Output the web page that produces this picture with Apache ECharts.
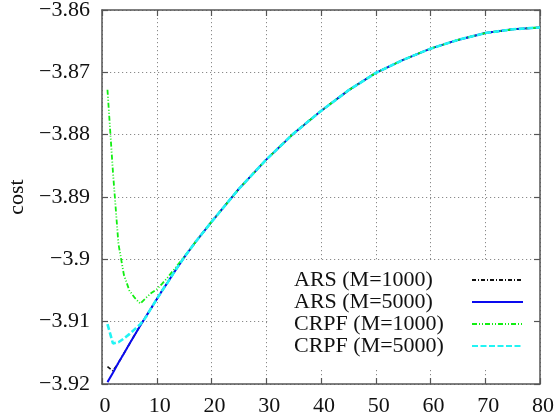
<!DOCTYPE html>
<html>
<head>
<meta charset="utf-8">
<script src="https://cdn.jsdelivr.net/npm/echarts@6/dist/echarts.min.js"></script>
<style>
  html, body { margin: 0; padding: 0; background: #fff; }
  #chart { width: 556px; height: 419px; }
</style>
</head>
<body>
<div id="chart"></div>
<script>
// Iteration index (x) shared by all four runs
const iterations = [1, 2, 3, 4, 5, 6, 7, 8, 9, 10, 11, 12, 13, 14, 15, 16, 17, 18,
  20, 25, 30, 35, 40, 45, 50, 55, 60, 65, 70, 75, 80];

// Cost per iteration for each method / particle count
const arsM1000 = [-3.9172, -3.9179, -3.9166, -3.9151, -3.9136, -3.9121, -3.9106, -3.9092, -3.9078, -3.9064,
  -3.9050, -3.9037, -3.9023, -3.9010, -3.8997, -3.8985, -3.8973, -3.8962,
  -3.8940, -3.8887, -3.8840, -3.8798, -3.8762, -3.8729, -3.8701, -3.8680, -3.8662, -3.8648, -3.8637, -3.8631, -3.8628];
const arsM5000 = [-3.9197, -3.9182, -3.9166, -3.9151, -3.9136, -3.9121, -3.9106, -3.9092, -3.9078, -3.9064,
  -3.9050, -3.9037, -3.9023, -3.9010, -3.8997, -3.8985, -3.8973, -3.8962,
  -3.8940, -3.8887, -3.8840, -3.8798, -3.8762, -3.8729, -3.8701, -3.8680, -3.8662, -3.8648, -3.8637, -3.8631, -3.8628];
const crpfM1000 = [-3.8728, -3.8860, -3.8975, -3.9025, -3.9050, -3.9062, -3.9071, -3.9062, -3.9054, -3.9048,
  -3.9039, -3.9029, -3.9018, -3.9007, -3.8996, -3.8985, -3.8973, -3.8962,
  -3.8940, -3.8887, -3.8840, -3.8798, -3.8762, -3.8729, -3.8701, -3.8680, -3.8662, -3.8648, -3.8637, -3.8631, -3.8628];
const crpfM5000 = [-3.9104, -3.9135, -3.9133, -3.9127, -3.9120, -3.9112, -3.9104, -3.9093, -3.9078, -3.9064,
  -3.9050, -3.9037, -3.9023, -3.9010, -3.8997, -3.8985, -3.8973, -3.8962,
  -3.8940, -3.8887, -3.8840, -3.8798, -3.8762, -3.8729, -3.8701, -3.8680, -3.8662, -3.8648, -3.8637, -3.8631, -3.8628];

const seriesNames = ['ARS (M=1000)', 'ARS (M=5000)', 'CRPF (M=1000)', 'CRPF (M=5000)'];

// Axis ticks and their printed labels
const xTicks = [0, 10, 20, 30, 40, 50, 60, 70, 80];
const xTickLabels = ['0', '10', '20', '30', '40', '50', '60', '70', '80'];
const yTicks = [-3.92, -3.91, -3.9, -3.89, -3.88, -3.87, -3.86];
const yTickLabels = ['\u22123.92', '\u22123.91', '\u22123.9', '\u22123.89', '\u22123.88', '\u22123.87', '\u22123.86'];
const yAxisTitle = 'cost';

const FONT = 'Liberation Serif';
const FRAME = '#555';

function labelFor(ticks, labels) {
  return function (v) {
    for (let i = 0; i < ticks.length; i++) {
      if (Math.abs(ticks[i] - v) < 1e-6) return labels[i];
    }
    return '';
  };
}

function pairs(values) {
  return iterations.map((x, i) => [x, values[i]]);
}

const xRange = { min: xTicks[0], max: xTicks[xTicks.length - 1], interval: 10 };
const yRange = { min: yTicks[0], max: yTicks[yTicks.length - 1], interval: 0.01 };

// Frame axes (drawn above the legend box) and grid-only axes (drawn below it)
const frameX = (position, withLabels) => Object.assign({
  type: 'value', position: position, z: 3,
  axisLine: { show: true, onZero: false, lineStyle: { color: FRAME, width: 1.5 } },
  axisTick: { show: true, inside: true, length: 6, lineStyle: { color: FRAME, width: 1.2 } },
  axisLabel: {
    show: withLabels, margin: 11, color: '#111', fontFamily: FONT, fontSize: 22,
    padding: [0, 0, 0, 6],
    formatter: labelFor(xTicks, xTickLabels)
  },
  splitLine: { show: false }
}, xRange);

const frameY = (position, withLabels) => Object.assign({
  type: 'value', position: position, z: 3,
  axisLine: { show: true, onZero: false, lineStyle: { color: FRAME, width: 1.5 } },
  axisTick: { show: true, inside: true, length: 6, lineStyle: { color: FRAME, width: 1.2 } },
  axisLabel: {
    show: withLabels, margin: 12, color: '#111', fontFamily: FONT, fontSize: 22,
    formatter: labelFor(yTicks, yTickLabels)
  },
  splitLine: { show: false }
}, yRange);

const gridLines = { show: true, lineStyle: { color: '#8a8a8a', width: 1, type: [1.2, 2.8] } };

const option = {
  backgroundColor: '#fff',
  animation: false,
  grid: { left: 102, right: 16, top: 10, bottom: 35, containLabel: false, outerBoundsMode: 'none' },
  xAxis: [
    frameX('bottom', true),
    frameX('top', false),
    Object.assign({
      type: 'value', position: 'bottom', z: 0,
      axisLine: { show: false }, axisTick: { show: false }, axisLabel: { show: false },
      splitLine: gridLines
    }, xRange)
  ],
  yAxis: [
    Object.assign(frameY('left', true), {
      name: yAxisTitle, nameLocation: 'middle', nameGap: 74, nameRotate: 90,
      nameTextStyle: { color: '#111', fontFamily: FONT, fontSize: 22 }
    }),
    frameY('right', false),
    Object.assign({
      type: 'value', position: 'left', z: 0,
      axisLine: { show: false }, axisTick: { show: false }, axisLabel: { show: false },
      splitLine: gridLines
    }, yRange)
  ],
  legend: {
    orient: 'vertical',
    align: 'right',
    left: 268,
    top: 262,
    padding: [7, 16, 12, 26],
    itemGap: 0,
    itemWidth: 51,
    itemHeight: 14,
    backgroundColor: '#fff',
    z: 1,
    itemStyle: { opacity: 0 },
    data: seriesNames,
    formatter: '{t|{name}}',
    textStyle: {
      color: '#111', fontFamily: FONT, fontSize: 22,
      rich: { t: { width: 173, align: 'left', fontFamily: FONT, fontSize: 22, lineHeight: 25.5, color: '#111' } }
    }
  },
  series: [
    {
      name: seriesNames[0], type: 'line', data: pairs(arsM1000),
      symbol: 'none', xAxisIndex: 0, yAxisIndex: 0,
      lineStyle: { color: '#111', width: 1.6, type: [4, 2, 1, 2] }
    },
    {
      name: seriesNames[1], type: 'line', data: pairs(arsM5000),
      symbol: 'none', xAxisIndex: 0, yAxisIndex: 0,
      lineStyle: { color: '#0a0aee', width: 2, type: 'solid' }
    },
    {
      name: seriesNames[2], type: 'line', data: pairs(crpfM1000),
      symbol: 'none', xAxisIndex: 0, yAxisIndex: 0,
      lineStyle: { color: '#11ee11', width: 1.8, type: [5, 2, 1, 2, 1, 2] }
    },
    {
      name: seriesNames[3], type: 'line', data: pairs(crpfM5000),
      symbol: 'none', xAxisIndex: 0, yAxisIndex: 0,
      lineStyle: { color: '#22f4f4', width: 2.6, type: [6, 2.5] }
    }
  ]
};

const chart = echarts.init(document.getElementById('chart'), null, { renderer: 'canvas' });
chart.setOption(option);
</script>
</body>
</html>
